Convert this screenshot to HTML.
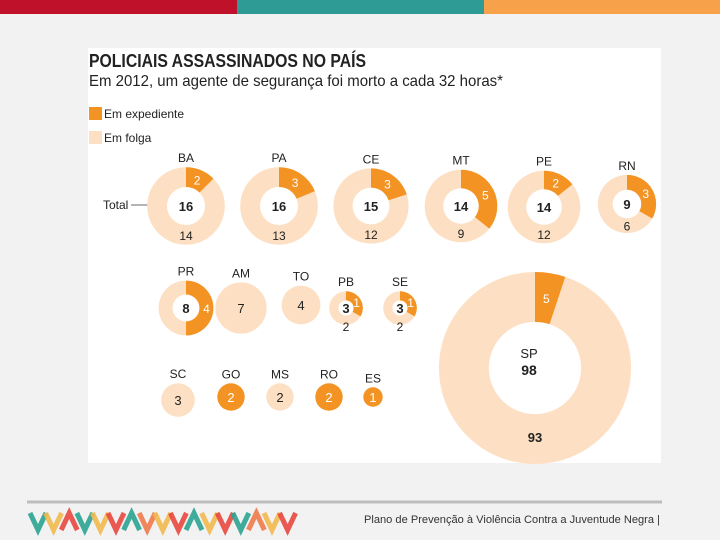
<!DOCTYPE html>
<html><head><meta charset="utf-8">
<style>
body{margin:0;width:720px;height:540px;background:#f2f2f2;overflow:hidden;font-family:"Liberation Sans",sans-serif}
svg{display:block}
</style></head><body>
<svg width="720" height="540" viewBox="0 0 720 540">
<rect x="0" y="0" width="237" height="14" fill="#c0112a"/>
<rect x="237" y="0" width="247" height="14" fill="#2e9c95"/>
<rect x="484" y="0" width="236" height="14" fill="#f7a24b"/>
<rect x="88" y="48" width="573" height="415" fill="#fff"/>
<text x="89" y="67" font-size="18" font-weight="bold" fill="#222" textLength="277" lengthAdjust="spacingAndGlyphs">POLICIAIS ASSASSINADOS NO PAÍS</text>
<text x="89" y="86" font-size="16" fill="#222" textLength="414" lengthAdjust="spacingAndGlyphs">Em 2012, um agente de segurança foi morto a cada 32 horas*</text>
<rect x="89" y="107" width="13" height="13" fill="#f39323"/>
<text x="104" y="118" font-size="12" fill="#222">Em expediente</text>
<rect x="89" y="131" width="13" height="13" fill="#fde0c3"/>
<text x="104" y="142" font-size="12" fill="#222">Em folga</text>
<text x="103" y="209" font-size="12" fill="#222">Total</text>
<line x1="131" y1="205" x2="176" y2="205" stroke="#888" stroke-width="1.2"/>
<g id="donuts"></g>
<line x1="27" y1="502" x2="662" y2="502" stroke="#bdbdbd" stroke-width="3"/>
<g id="logo"></g>
<text x="364" y="523" font-size="11" fill="#333" textLength="296" lengthAdjust="spacingAndGlyphs">Plano de Prevenção à Violência Contra a Juventude Negra  |</text>
</svg>
<script>
const states=["BA","PA","CE","MT","PE","RN","PR","AM","TO","PB","SE","SC","GO","MS","RO","ES","SP"];
const totals=[16,16,15,14,14,9,8,7,4,3,3,3,2,2,2,1,98];
const expediente=[2,3,3,5,2,3,4,0,0,1,1,0,2,0,2,1,5];
const folga=[14,13,12,9,12,6,4,7,4,2,2,3,0,2,0,0,93];
const hasHole=[1,1,1,1,1,1,1,0,0,1,1,0,0,0,0,0,1];
const showFolga=[1,1,1,1,1,1,0,0,0,1,1,0,0,0,0,0,1];
const centers=[[186,206],[279,206],[371,206],[461,206],[544,207],[627,204],[186,308],[241,308],[301,305],[346,308],[400,308],[178,400],[231,397],[280,397],[329,397],[373,397],[535,368]];
const OR="#f39323",LT="#fde0c3",NS="http://www.w3.org/2000/svg";
const rScale=v=>9.7*Math.sqrt(v);
const g=document.getElementById('donuts');
function pt(cx,cy,r,a){return [cx+r*Math.sin(a),cy-r*Math.cos(a)];}
function txt(x,y,s,fill,size,bold,name){const t=document.createElementNS(NS,'text');t.setAttribute('x',x);t.setAttribute('y',y);t.setAttribute('text-anchor','middle');t.setAttribute('font-size',size);t.setAttribute('fill',fill);if(bold)t.setAttribute('font-weight','bold');t.textContent=s;


g.appendChild(t);}
states.forEach((st,i)=>{
  const [cx,cy]=centers[i];const R=rScale(totals[i]);const ri=hasHole[i]?R*(st==="SP"?0.48:(R<20?0.45:0.49)):0;
  const grp=document.createElementNS(NS,'g');
  
  
  g.appendChild(grp);
  const base=document.createElementNS(NS,'circle');base.setAttribute('cx',cx);base.setAttribute('cy',cy);base.setAttribute('r',R);
  base.setAttribute('fill',expediente[i]>=totals[i]?OR:LT);
  
  
  grp.appendChild(base);
  const f=expediente[i]/totals[i];
  if(f>0&&f<1){
    const a=f*2*Math.PI;const p0=pt(cx,cy,R,0),p1=pt(cx,cy,R,a);const large=f>0.5?1:0;
    const path=document.createElementNS(NS,'path');
    path.setAttribute('d',`M${cx},${cy}L${p0[0]},${p0[1]}A${R},${R} 0 ${large} 1 ${p1[0]},${p1[1]}Z`);
    path.setAttribute('fill',OR);
    
    
    grp.appendChild(path);
  }
  if(ri>0){const h=document.createElementNS(NS,'circle');h.setAttribute('cx',cx);h.setAttribute('cy',cy);h.setAttribute('r',ri);h.setAttribute('fill','#fff');
    
    
    grp.appendChild(h);}
  const big=st==="SP";
  if(big){txt(cx-6,cy-10,st,'#222',13,false,'state-label-sp');txt(cx-6,cy+7,totals[i],'#222',14,true,'total-label-sp');}
  else{
    txt(cx,cy-R-5,st,'#222',12,false,'state-label-'+st.toLowerCase());
    const full=expediente[i]>=totals[i];
    txt(cx,cy+5,totals[i],(full?'#fff':'#222'),13,hasHole[i]?true:false,'total-label-'+st.toLowerCase());
  }
  if(f>0&&f<1){
    const mr=ri>0?(R+ri)/2:R*0.6;const m=pt(cx,cy,mr,f*Math.PI);
    txt(m[0],m[1]+5,expediente[i],'#fff',12,false,'expediente-label-'+st.toLowerCase());
  }
  if(showFolga[i]&&folga[i]>0){
    const yb=big?cy+74:cy+(R+ri)/2+5+(R<20?6:0);
    txt(cx,yb,folga[i],'#222',big?13:12,big,'folga-label-'+st.toLowerCase());
  }
});
const logo=document.getElementById('logo');
const cols=["#2aa391","#f2b94f","#e8473f","#2aa391","#f2b94f","#e8473f","#2aa391","#f07a4a","#f2b94f","#e8473f","#2aa391","#f2b94f","#e8473f","#2aa391","#f07a4a","#f2b94f","#e8473f"];
for(let k=0;k<17;k++){
  const x=30+k*15.6;const up=k%4===2;
  const p=document.createElementNS(NS,'polyline');
  p.setAttribute('points',up?`${x},${530} ${x+8},${513} ${x+16},${530}`:`${x},${513} ${x+8},${530} ${x+16},${513}`);
  p.setAttribute('fill','none');p.setAttribute('stroke',cols[k]);p.setAttribute('stroke-width','5');p.setAttribute('opacity','0.9');
  
  
  logo.appendChild(p);
}
</script>
</body></html>
